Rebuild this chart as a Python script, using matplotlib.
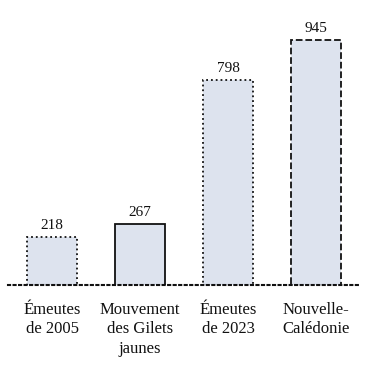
import matplotlib.pyplot as plt

# Data
categories = ["Émeutes\nde 2005", "Mouvement\ndes Gilets\njaunes", "Émeutes\nde 2023", "Nouvelle-\nCalédonie"]
values = [218, 267, 798, 945]
edge_styles = [":", "-", ":", "--"]

plt.rcParams["font.family"] = ["Liberation Serif", "DejaVu Serif"]

fig = plt.figure(figsize=(3.67, 3.67), dpi=100)
ax = fig.add_axes([0.022, 0.223, 0.959, 0.705])

x = range(len(values))
bars = ax.bar(x, values, width=0.57, color="#dde3ee", edgecolor="#111111", linewidth=1.3, zorder=2)
for bar, ls in zip(bars, edge_styles):
    bar.set_linestyle(ls)

for xi, v in zip(x, values):
    ax.text(xi, v + 18, str(v), ha="center", va="bottom", fontsize=11, color="#111111")

ax.set_xlim(-0.5, 3.5)
ax.set_ylim(40, 996)
ax.set_xticks(list(x))
ax.set_xticklabels(categories, fontsize=12, color="#111111", linespacing=1.3)
ax.tick_params(axis="x", length=0, pad=12)
ax.set_yticks([])

for side in ["top", "right", "left"]:
    ax.spines[side].set_visible(False)
ax.spines["bottom"].set_linestyle(":")
ax.spines["bottom"].set_linewidth(1.5)
ax.spines["bottom"].set_color("#111111")

fig.savefig("out.png", dpi=100)
